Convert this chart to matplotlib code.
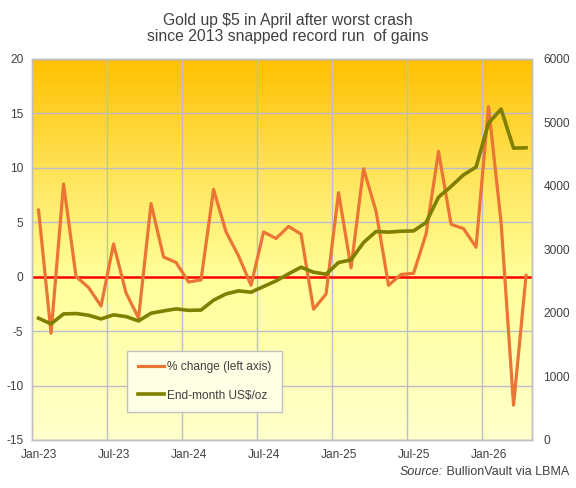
import numpy as np
import pandas as pd
import matplotlib
matplotlib.use('Agg')
import matplotlib.pyplot as plt
from matplotlib.colors import LinearSegmentedColormap

plt.rcParams['font.family'] = ['Liberation Sans', 'DejaVu Sans']
plt.rcParams['axes.unicode_minus'] = False

# monthly data, Jan-2023 .. Apr-2026
months = pd.date_range('2023-01-01', periods=40, freq='MS')
pct_change = [6.1, -5.2, 8.5, 0.0, -1.0, -2.7, 3.0, -1.5, -3.8, 6.7,
              1.8, 1.3, -0.5, -0.3, 8.0, 4.1, 1.9, -0.8, 4.1, 3.5,
              4.6, 3.9, -3.0, -1.6, 7.7, 0.8, 9.9, 6.0, -0.8, 0.2,
              0.3, 3.9, 11.5, 4.8, 4.4, 2.7, 15.6, 5.0, -11.8, 0.1]
price = [1916, 1827, 1984, 1990, 1963, 1905, 1969, 1942, 1874, 1995,
         2031, 2063, 2040, 2045, 2200, 2299, 2346, 2326, 2415, 2504,
         2614, 2720, 2640, 2609, 2793, 2835, 3108, 3281, 3271, 3285,
         3290, 3423, 3822, 3990, 4173, 4294, 4987, 5207, 4593, 4598]
tick_labels = ['Jan-23', 'Jul-23', 'Jan-24', 'Jul-24', 'Jan-25', 'Jul-25', 'Jan-26']

text_col = '#404040'
grid_col = '#BCBCCC'

fig = plt.figure(figsize=(5.76, 4.88), dpi=100)
ax = fig.add_axes([32.3 / 576, 48 / 488, 500 / 576, 381.3 / 488])
ax2 = ax.twinx()

x = np.arange(len(months))

# background gradient
cmap = LinearSegmentedColormap.from_list(
    'gold', [(0, '#FFFFCC'), (0.43, '#FFFF99'), (0.7, '#FFE45A'), (1, '#FFC000')])
grad = np.linspace(0, 1, 256).reshape(-1, 1)
ax.imshow(grad, extent=[0, 1, 0, 1], transform=ax.transAxes, aspect='auto',
          cmap=cmap, origin='lower', zorder=0)

ax.axhline(0, color='#FF0000', lw=1.8, zorder=2)
ax.plot(x, pct_change, color='#EB7535', lw=2.3, zorder=3, label='% change (left axis)')
ax2.plot(x, price, color='#7F7F00', lw=2.6, zorder=3, label='End-month US$/oz')

ax.set_xlim(-0.5, len(months) - 0.5)
ax.set_ylim(-15, 20)
ax2.set_ylim(0, 6000)
ax.set_yticks(range(-15, 21, 5))
ax2.set_yticks(range(0, 6001, 1000))
ax.set_xticks(x[::6])
ax.set_xticklabels(tick_labels)
ax.set_xticks(np.arange(5.5, len(months), 6), minor=True)

ax.grid(True, axis='y', color=grid_col, lw=1, zorder=1)
ax.grid(True, axis='x', which='minor', color=grid_col, lw=1, zorder=1)
ax.set_axisbelow(True)

ax.tick_params(axis='both', which='both', length=0, colors=text_col, labelsize=8.6)
ax.tick_params(axis='y', pad=6.5)
ax.tick_params(axis='x', pad=6.5)
ax2.tick_params(axis='y', length=0, colors=text_col, labelsize=8.6, pad=8)

for a in (ax, ax2):
    for s in a.spines.values():
        s.set_color('#BFBFBF')
        s.set_linewidth(1)
ax2.patch.set_visible(False)

h1, l1 = ax.get_legend_handles_labels()
h2, l2 = ax2.get_legend_handles_labels()
leg = ax2.legend(h1 + h2, l1 + l2, loc='upper left',
                 bbox_to_anchor=(127.3 / 576, 1 - 350.7 / 488),
                 bbox_transform=fig.transFigure, borderaxespad=0,
                 fancybox=False, framealpha=1, facecolor='#FFFFE6',
                 edgecolor='#BFBFBF', fontsize=8.6, handlelength=2.2,
                 handletextpad=0.25, labelspacing=1.35, borderpad=0.9)
leg.get_frame().set_linewidth(1)
for t in leg.get_texts():
    t.set_color(text_col)

# title
fig.text(0.5, 1 - 20 / 488, 'Gold up $5 in April after worst crash',
         ha='center', va='center', fontsize=11.3, color=text_col)
fig.text(0.5, 1 - 36.7 / 488, 'since 2013 snapped record run  of gains',
         ha='center', va='center', fontsize=11.3, color=text_col)

# source line, italic "Source:"
src = fig.text(569.3 / 576, 1 - 471.7 / 488, ' BullionVault via LBMA',
               ha='right', va='center', fontsize=9, color=text_col)
renderer = fig.canvas.get_renderer()
bb = src.get_window_extent(renderer=renderer)
fig.text(bb.x0 / fig.bbox.width, 1 - 471.7 / 488, 'Source:', ha='right',
         va='center', fontsize=9, color=text_col, style='italic')

fig.savefig('out.png', dpi=100)
